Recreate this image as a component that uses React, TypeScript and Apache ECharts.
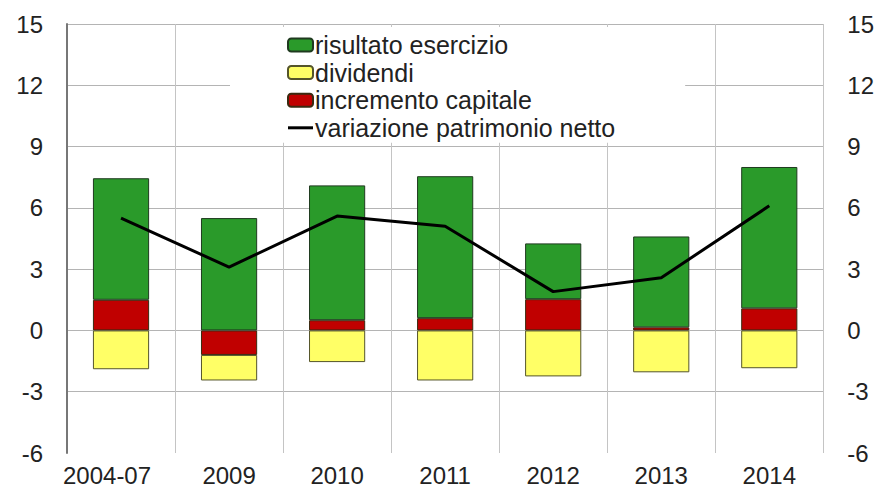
import React, { useEffect, useRef } from "react";
import * as echarts from "echarts";

const categories = ["2004-07", "2009", "2010", "2011", "2012", "2013", "2014"];
const risultato = [5.95, 5.5, 6.6, 6.95, 2.73, 4.45, 6.92];
const dividendi = [-1.9, -1.25, -1.55, -2.45, -2.25, -2.05, -1.85];
const incremento = [1.5, -1.2, 0.5, 0.6, 1.53, 0.15, 1.08];
const variazione = [5.5, 3.1, 5.6, 5.1, 1.9, 2.58, 6.1];
const yTicks = { min: -6, max: 15, interval: 3 };

const NAMES = {
  r: "risultato esercizio",
  d: "dividendi",
  i: "incremento capitale",
  v: "variazione patrimonio netto",
};

export default function App() {
  const ref = useRef<HTMLDivElement>(null);
  useEffect(() => {
    document.body.style.margin = "0";
    const chart = echarts.init(ref.current!, null, { renderer: "svg" });
    const font = "'Liberation Sans', Arial, sans-serif";
    const gridColor = "#c4c4c4";
    const barBase = { type: "bar", stack: "a", barWidth: "52%" };
    chart.setOption({
      animation: false,
      backgroundColor: "#ffffff",
      textStyle: { fontFamily: font },
      grid: { left: 67, right: 49, top: 24, bottom: 34 },
      legend: {
        orient: "vertical",
        left: 230,
        top: 27,
        padding: [5.5, 70, 2.5, 57],
        backgroundColor: "#ffffff",
        itemWidth: 25,
        itemHeight: 13,
        itemGap: 2.6,
        textStyle: { fontSize: 25, color: "#222", fontFamily: font, padding: [0, 0, 0, -3] },
        data: [
          NAMES.r,
          NAMES.d,
          NAMES.i,
          { name: NAMES.v, icon: "path://M0,0H25V3H0Z", itemStyle: { color: "#000" } },
        ],
      },
      xAxis: {
        type: "category",
        data: categories.map((c, i) =>
          i === 0 ? { value: c, textStyle: { padding: [0, 28, 0, 0] } } : c
        ),
        axisLine: { show: false },
        axisTick: { show: false },
        axisLabel: { fontSize: 24, color: "#222", margin: 10, interval: 0, fontFamily: font },
        splitLine: { show: true, lineStyle: { color: gridColor, width: 1 } },
      },
      yAxis: [
        {
          type: "value",
          ...yTicks,
          axisLine: { show: true, lineStyle: { color: "#777", width: 2 } },
          axisTick: { show: false },
          axisLabel: { fontSize: 24, color: "#222", margin: 24, fontFamily: font },
          splitLine: {
            show: true,
            lineStyle: {
              color: ["rgba(0,0,0,0)", "#b4b4b4", "#b4b4b4", "#b4b4b4", "#b4b4b4", "#b4b4b4", "#b4b4b4", "#b4b4b4"],
              width: 1,
            },
          },
        },
        {
          type: "value",
          position: "right",
          ...yTicks,
          axisLine: { show: false },
          axisTick: { show: false },
          axisLabel: { fontSize: 24, color: "#222", margin: 24, fontFamily: font },
          splitLine: { show: false },
        },
      ],
      series: [
        {
          ...barBase,
          name: NAMES.i,
          data: incremento,
          itemStyle: { color: "#c00000", borderColor: "#3a2a10", borderWidth: 1 },
        },
        {
          ...barBase,
          name: NAMES.r,
          data: risultato,
          itemStyle: { color: "#2a9a2a", borderColor: "#1f3a1f", borderWidth: 1 },
        },
        {
          ...barBase,
          name: NAMES.d,
          data: dividendi,
          itemStyle: { color: "#ffff66", borderColor: "#55552a", borderWidth: 1 },
        },
        {
          type: "line",
          name: NAMES.v,
          data: variazione,
          yAxisIndex: 0,
          symbol: "none",
          z: 10,
          lineStyle: { color: "#000", width: 3 },
          itemStyle: { color: "#000" },
        },
      ],
    });
    return () => chart.dispose();
  }, []);
  return <div ref={ref} style={{ width: 877, height: 487 }} />;
}
